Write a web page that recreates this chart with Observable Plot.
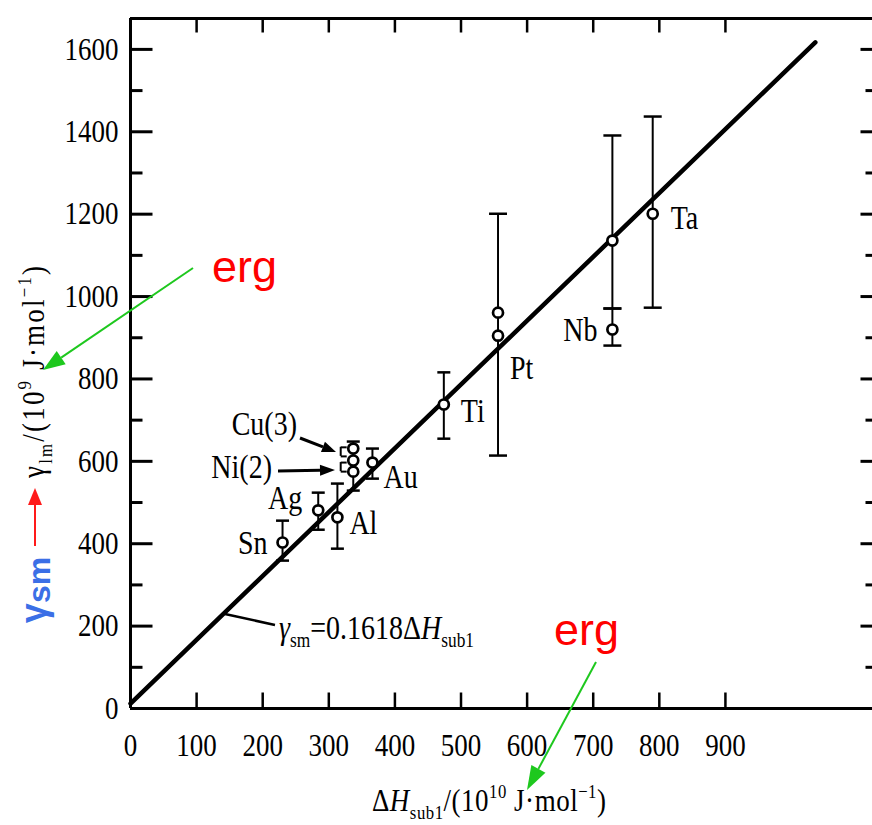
<!DOCTYPE html>
<html>
<head>
<meta charset="utf-8">
<script src="https://cdn.jsdelivr.net/npm/d3@7"></script>
<script src="https://cdn.jsdelivr.net/npm/@observablehq/plot@0.6"></script>
<style>
html,body{margin:0;padding:0;background:#fff;}
#chart svg{display:block;}
</style>
</head>
<body>
<div id="chart"></div>
<script>
// ---------- data ----------
const names = ["Sn", "Ag", "Al", "Cu", "Cu", "Cu", "Au", "Ti", "Pt", "Pt", "Nb", "Nb", "Ta"];
const dH    = [230, 284, 313, 337, 337, 337, 366, 474, 556, 556, 729, 729, 790];
const gamma = [403, 481, 464, 631, 602, 575, 597, 738, 961, 905, 1136, 920, 1201];

// error bars
const barNames = ["Sn", "Ag", "Al", "Cu", "Au", "Ti", "Pt", "Nb", "Nb", "Ta", "Ni", "Ni"];
const barDH    = [230, 284, 313, 337, 366, 474, 556, 729, 729, 790, 318, 318];
const barLo    = [359, 434, 388, 529, 558, 655, 614, 971, 881, 973, 612, 575];
const barHi    = [456, 524, 546, 648, 631, 816, 1201, 1391, 971, 1437, 634, 597];

// fitted line gamma_sm = 0.1618 dH (as drawn)
const fitDH    = [0, 1036];
const fitGamma = [12, 1617];

// axis ticks
const xTickLabels = [0, 100, 200, 300, 400, 500, 600, 700, 800, 900];
const xTickMarks  = [100, 200, 300, 400, 500, 600, 700, 800, 900];
const yTickLabels = [0, 200, 400, 600, 800, 1000, 1200, 1400, 1600];
const yMinor      = [100, 300, 500, 700, 900, 1100, 1300, 1500];
const yMajor      = [200, 400, 600, 800, 1000, 1200, 1400, 1600];

// ---------- build ----------
const serif = "'Liberation Serif','Times New Roman',serif";
const sans = "'Liberation Sans',Arial,sans-serif";
const xMax = 1122.5, yMax = 1675;

const points = names.map((n, i) => ({name: n, dH: dH[i], gamma: gamma[i]}));
const bars = barNames.map((n, i) => ({name: n, dH: barDH[i], lo: barLo[i], hi: barHi[i]}));
const caps = bars.flatMap(b => [{...b, v: b.lo}, {...b, v: b.hi}]);
const fit = fitDH.map((d, i) => ({dH: d, gamma: fitGamma[i]}));
const labelPts = Array.from(d3.group(points, d => d.name), ([name, arr]) => d3.least(arr, d => d.gamma))
  .filter(d => d.name !== "Cu");

const bigCaps = new Set(["Pt", "Nb", "Ta"]);
const labelStyle = {
  Ta: {dx: 18, dy: 5, a: "start"},
  Nb: {dx: -15, dy: 1, a: "end"},
  Pt: {dx: 12, dy: 33, a: "start"},
  Ti: {dx: 17, dy: 7, a: "start"},
  Au: {dx: 11, dy: 15, a: "start"},
  Al: {dx: 12, dy: 6, a: "start"},
  Ag: {dx: -16, dy: -12, a: "end"},
  Sn: {dx: -15, dy: 1, a: "end"}
};

const tick = (data, o) => Plot.vector(data, {r: 0, anchor: "start", stroke: "black", strokeWidth: 3, strokeLinecap: "butt", ...o});

const plot = Plot.plot({
  width: 872,
  height: 825,
  marginLeft: 130,
  marginRight: 0,
  marginTop: 18,
  marginBottom: 117,
  x: {domain: [0, xMax]},
  y: {domain: [0, yMax]},
  style: {fontFamily: serif, fontSize: "27px", color: "black", background: "white"},
  marks: [
    Plot.axisY({ticks: yTickLabels, tickFormat: d => String(d), tickSize: 0, tickPadding: 12, fontSize: 27, label: null}),
    Plot.axisX({ticks: xTickLabels, tickFormat: d => String(d), tickSize: 0, tickPadding: 25, fontSize: 27, label: null}),
    // frame
    Plot.ruleX([0], {stroke: "black", strokeWidth: 3}),
    Plot.ruleY([0], {stroke: "black", strokeWidth: 3}),
    Plot.ruleY([yMax], {stroke: "black", strokeWidth: 3}),
    // inward ticks
    tick(yMajor, {x: 0, y: d => d, rotate: 90, length: 22}),
    tick(yMinor, {x: 0, y: d => d, rotate: 90, length: 12}),
    tick(xTickMarks, {x: d => d, y: 0, rotate: 0, length: 16, strokeWidth: 2.5}),
    tick(xTickMarks, {x: d => d, y: yMax, rotate: 180, length: 14, strokeWidth: 2.5}),
    tick(yMajor, {x: xMax, y: d => d, rotate: -90, length: 12}),
    tick(yMinor, {x: xMax, y: d => d, rotate: -90, length: 7}),
    // error bars
    Plot.ruleX(bars, {x: "dH", y1: "lo", y2: "hi", stroke: "black", strokeWidth: 2}),
    Plot.vector(caps, {filter: d => bigCaps.has(d.name), x: "dH", y: "v", rotate: 90, length: 18, anchor: "middle", r: 0, strokeWidth: 2.5, strokeLinecap: "butt"}),
    Plot.vector(caps, {filter: d => !bigCaps.has(d.name) && d.name !== "Ni", x: "dH", y: "v", rotate: 90, length: 13, anchor: "middle", r: 0, strokeWidth: 2.5, strokeLinecap: "butt"}),
    Plot.vector(caps, {filter: d => d.name === "Ni", x: "dH", y: "v", rotate: 90, length: 6, anchor: "start", r: 0, strokeWidth: 2, strokeLinecap: "butt"}),
    // fitted line
    Plot.line(fit, {x: "dH", y: "gamma", stroke: "black", strokeWidth: 4.5}),
    // data points
    Plot.dot(points, {x: "dH", y: "gamma", r: 5, fill: "white", stroke: "black", strokeWidth: 2.7}),
    // labels
    ...labelPts.map(d => {
      const s = labelStyle[d.name];
      return Plot.text([d], {x: "dH", y: "gamma", text: "name", dx: s.dx, dy: s.dy, textAnchor: s.a, fontSize: 28, fontFamily: serif});
    })
  ]
});

document.getElementById("chart").appendChild(plot);

// ---------- annotations ----------
const svg = d3.select(plot);
const ann = svg.append("g").attr("text-anchor", "start");

function arrow(g, x1, y1, x2, y2, color, w, hl, hw) {
  const a = Math.atan2(y2 - y1, x2 - x1);
  const bx = x2 - hl * Math.cos(a), by = y2 - hl * Math.sin(a);
  g.append("line").attr("x1", x1).attr("y1", y1).attr("x2", bx).attr("y2", by)
    .attr("stroke", color).attr("stroke-width", w);
  const px = -Math.sin(a) * hw, py = Math.cos(a) * hw;
  g.append("path").attr("d", `M${x2},${y2}L${bx + px},${by + py}L${bx - px},${by - py}Z`).attr("fill", color);
}

function rich(parent, parts, size, family) {
  const t = parent.append("text").attr("font-size", size).attr("font-family", family)
    .attr("fill", "black").attr("text-anchor", "start").attr("class", "tall");
  let shift = 0;
  for (const p of parts) {
    const target = p.sub ? size * 0.24 : p.sup ? -size * 0.4 : 0;
    const ts = t.append("tspan").text(p.t).attr("dy", target - shift);
    shift = target;
    if (p.sub || p.sup) ts.attr("font-size", size * 0.62);
    if (p.i) ts.attr("font-style", "italic");
  }
  return t;
}

// Cu(3), Ni(2) labels with arrows
ann.append("text").attr("class", "tall").attr("x", 297).attr("y", 424).attr("dy", "0.32em").attr("text-anchor", "end")
  .attr("font-family", serif).attr("font-size", 28).text("Cu(3)");
ann.append("text").attr("class", "tall").attr("x", 272).attr("y", 467).attr("dy", "0.32em").attr("text-anchor", "end")
  .attr("font-family", serif).attr("font-size", 28).text("Ni(2)");
arrow(ann, 300, 438, 336, 452, "black", 3, 14, 5.5);
arrow(ann, 278, 471, 335, 470, "black", 3, 15, 5.5);

// equation leader line and text
ann.append("line").attr("x1", 225).attr("y1", 614).attr("x2", 275).attr("y2", 625)
  .attr("stroke", "black").attr("stroke-width", 2.5);
rich(ann, [
  {t: "γ", i: true}, {t: "sm", sub: true}, {t: "=0.1618Δ"}, {t: "H", i: true}, {t: "sub1", sub: true}
], 28, serif).attr("x", 279).attr("y", 639);

// x axis title
rich(ann, [
  {t: "Δ"}, {t: "H", i: true}, {t: "sub1", sub: true}, {t: "/(10"}, {t: "10", sup: true},
  {t: " J·mol"}, {t: "−1", sup: true}, {t: ")"}
], 27, serif).attr("x", 372).attr("y", 811).attr("textLength", 234).attr("lengthAdjust", "spacing");

// y axis title (rotated)
const yt = ann.append("g").attr("transform", "translate(44,372) rotate(-90)");
rich(yt, [
  {t: "γ"}, {t: "lm", sub: true}, {t: "/(10"}, {t: "9", sup: true}, {t: " J·mol"}, {t: "−1", sup: true}, {t: ")"}
], 27, serif).attr("x", 0).attr("y", 0).attr("text-anchor", "middle")
  .attr("textLength", 212).attr("lengthAdjust", "spacing");

// blue gamma_sm (rotated)
const gs = ann.append("g").attr("transform", "translate(46,590) rotate(-90)");
gs.append("text").attr("text-anchor", "middle").attr("font-family", sans).attr("font-weight", "bold")
  .attr("font-size", 36).attr("fill", "#3b6fe6")
  .call(t => { t.append("tspan").text("γ"); t.append("tspan").text("sm").attr("dy", 4).attr("font-size", 32); });

// red arrow
arrow(ann, 35, 546, 35, 488, "#ff1a1a", 2, 17, 7);

// red "erg" labels
ann.append("text").attr("x", 212).attr("y", 282).attr("font-family", sans).attr("font-size", 45)
  .attr("text-anchor", "start").attr("fill", "#ff0000").text("erg");
ann.append("text").attr("x", 554).attr("y", 645).attr("font-family", sans).attr("font-size", 45)
  .attr("text-anchor", "start").attr("fill", "#ff0000").text("erg");

// green arrows
arrow(ann, 193, 268, 43, 370, "#1ec81e", 2, 22, 8);
arrow(ann, 596, 662, 527, 790, "#1ec81e", 2, 24, 8);

// the scanned serif lettering is taller than it is wide: stretch serif text vertically about its anchor
const tallTexts = [
  ...plot.querySelectorAll('g[aria-label="y-axis tick label"] text, g[aria-label="x-axis tick label"] text, g[aria-label="text"] text'),
  ...plot.querySelectorAll('text.tall')
];
for (const el of tallTexts) {
  const tr = el.getAttribute("transform") || "";
  const x = parseFloat(el.getAttribute("x")) || 0;
  const y = parseFloat(el.getAttribute("y")) || 0;
  const isPx = v => v != null && !/em$/.test(v);
  const ox = isPx(el.getAttribute("x")) ? x : 0;
  const oy = isPx(el.getAttribute("y")) ? y : 0;
  el.setAttribute("transform", `${tr} translate(${ox},${oy}) scale(1,1.18) translate(${-ox},${-oy})`);
}
</script>
</body>
</html>
